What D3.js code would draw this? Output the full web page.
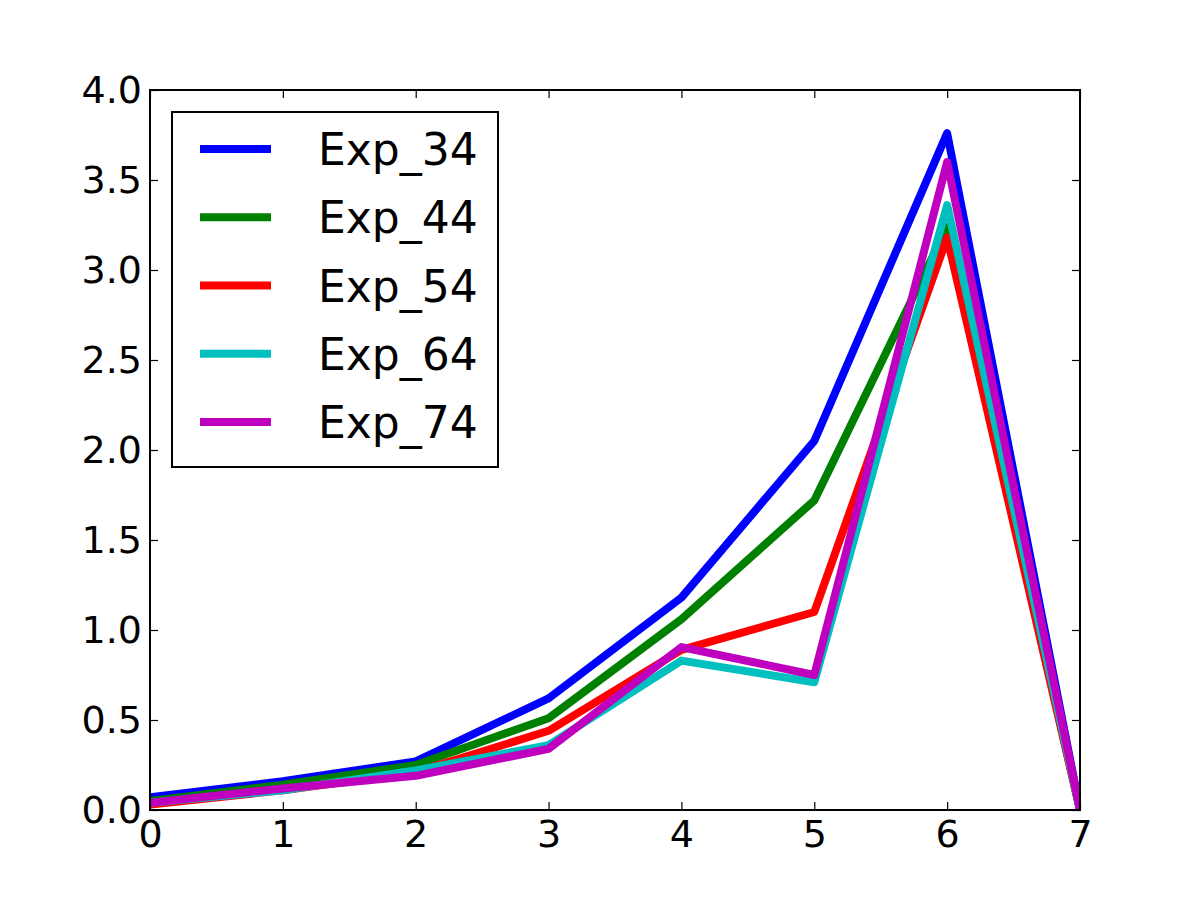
<!DOCTYPE html>
<html>
<head>
<meta charset="utf-8">
<script src="https://cdn.jsdelivr.net/npm/d3@7"></script>
<style>
  html, body { margin: 0; padding: 0; background: #fff; }
  svg text { font-family: "DejaVu Sans", sans-serif; fill: #000; }
</style>
</head>
<body>
<svg id="chart" width="1200" height="900"></svg>
<script>
const xCategories = [0, 1, 2, 3, 4, 5, 6, 7];
const seriesNames = ["Exp_34", "Exp_44", "Exp_54", "Exp_64", "Exp_74"];
const seriesColors = ["#0000ff", "#008000", "#ff0000", "#00bfbf", "#bf00bf"];
const exp34 = [0.07, 0.16, 0.27, 0.62, 1.18, 2.05, 3.76, 0];
const exp44 = [0.05, 0.14, 0.25, 0.51, 1.06, 1.72, 3.24, 0];
const exp54 = [0.03, 0.11, 0.21, 0.44, 0.89, 1.10, 3.18, 0];
const exp64 = [0.04, 0.11, 0.22, 0.36, 0.83, 0.71, 3.36, 0];
const exp74 = [0.04, 0.12, 0.19, 0.34, 0.905, 0.75, 3.60, 0];
const xTicks = [0, 1, 2, 3, 4, 5, 6, 7];
const yTicks = [0.0, 0.5, 1.0, 1.5, 2.0, 2.5, 3.0, 3.5, 4.0];

const seriesValues = [exp34, exp44, exp54, exp64, exp74];

(function () {
const svg = d3.select("#chart");
const mLeft = 150, mRight = 1080, mTop = 90, mBottom = 810;

const x = d3.scaleLinear().domain([0, 7]).range([mLeft, mRight]);
const y = d3.scaleLinear().domain([0, 4]).range([mBottom, mTop]);

svg.append("defs").append("clipPath").attr("id", "clip")
  .append("rect").attr("x", mLeft).attr("y", mTop)
  .attr("width", mRight - mLeft).attr("height", mBottom - mTop);

const line = d3.line().x((d, i) => x(xCategories[i])).y(d => y(d));

const plot = svg.append("g").attr("clip-path", "url(#clip)");
seriesValues.forEach((vals, k) => {
  plot.append("path")
    .datum(vals)
    .attr("d", line)
    .attr("fill", "none")
    .attr("stroke", seriesColors[k])
    .attr("stroke-width", 8)
    .attr("stroke-linejoin", "round");
});

const tickLen = 8;
const fontSize = 38;

const xAxisB = d3.axisBottom(x).tickValues(xTicks).tickFormat(d3.format("d"))
  .tickSizeInner(-tickLen).tickSizeOuter(0).tickPadding(10);
const gxb = svg.append("g").attr("transform", `translate(0,${mBottom})`).call(xAxisB);
const xAxisT = d3.axisTop(x).tickValues(xTicks).tickFormat("")
  .tickSizeInner(-tickLen).tickSizeOuter(0);
const gxt = svg.append("g").attr("transform", `translate(0,${mTop})`).call(xAxisT);

const yAxisL = d3.axisLeft(y).tickValues(yTicks).tickFormat(d3.format(".1f"))
  .tickSizeInner(-tickLen).tickSizeOuter(0).tickPadding(8);
const gyl = svg.append("g").attr("transform", `translate(${mLeft},0)`).call(yAxisL);
const yAxisR = d3.axisRight(y).tickValues(yTicks).tickFormat("")
  .tickSizeInner(-tickLen).tickSizeOuter(0);
const gyr = svg.append("g").attr("transform", `translate(${mRight},0)`).call(yAxisR);

[gxb, gxt, gyl, gyr].forEach(g => {
  g.select(".domain").remove();
  g.selectAll(".tick line").attr("stroke", "#000").attr("stroke-width", 1.2);
  g.selectAll(".tick text").attr("font-size", fontSize)
    .attr("font-family", "DejaVu Sans, sans-serif").attr("fill", "#000");
});

svg.append("rect").attr("x", mLeft).attr("y", mTop)
  .attr("width", mRight - mLeft).attr("height", mBottom - mTop)
  .attr("fill", "none").attr("stroke", "#000").attr("stroke-width", 2);

const legend = svg.append("g");
legend.append("rect").attr("x", 172).attr("y", 112).attr("width", 326).attr("height", 355)
  .attr("fill", "#fff").attr("stroke", "#000").attr("stroke-width", 2);
const rowY = d3.scalePoint().domain(seriesNames).range([149, 422]);
seriesNames.forEach((name, k) => {
  const cy = rowY(name);
  legend.append("line").attr("x1", 200).attr("x2", 271).attr("y1", cy).attr("y2", cy)
    .attr("stroke", seriesColors[k]).attr("stroke-width", 8);
  legend.append("text").attr("x", 318).attr("y", cy + 16)
    .attr("font-size", 44).text(name);
});
})();
</script>
</body>
</html>
